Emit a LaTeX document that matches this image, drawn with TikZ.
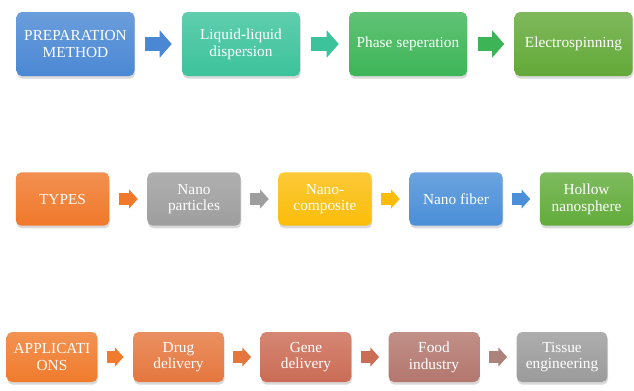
\documentclass[tikz,border=0pt]{standalone}
\usepackage{fontspec}
\setmainfont{Liberation Serif}
\usetikzlibrary{arrows.meta,shadows}

\definecolor{prepblue}{HTML}{4A88D4}
\definecolor{liqteal}{HTML}{3CC39B}
\definecolor{phasegreen}{HTML}{3DB557}
\definecolor{elecgreen}{HTML}{63A938}
\definecolor{typeorange}{HTML}{F0782A}
\definecolor{partgray}{HTML}{9E9E9E}
\definecolor{compyellow}{HTML}{FBBD0A}
\definecolor{fibblue}{HTML}{4A8FD8}
\definecolor{hollgreen}{HTML}{62AC3B}
\definecolor{apporange}{HTML}{F07B2C}
\definecolor{drugorange}{HTML}{E5773E}
\definecolor{genecoral}{HTML}{CB6C55}
\definecolor{foodbrown}{HTML}{B3776E}
\definecolor{tissgray}{HTML}{9B9B9B}

\tikzset{
  box/.style={rounded corners=4pt, top color=#1!82!white, bottom color=#1,
    text=white, align=center, inner sep=1pt,
    font=\fontsize{11.5}{12.5}\selectfont,
    drop shadow={opacity=0.3, shadow xshift=0.5pt, shadow yshift=-2pt}},
  bigbox/.style={box=#1, minimum width=88.5pt, minimum height=48pt},
  midbox/.style={box=#1, minimum width=70pt, minimum height=40pt},
  smallbox/.style={box=#1, minimum width=68pt, minimum height=37.5pt},
  bigarrow/.style={draw=#1, line width=11pt, -{Triangle[length=9pt,width=20pt]},
    shorten <=8pt, shorten >=7.5pt},
  smallarrow/.style={draw=#1, line width=8.5pt, -{Triangle[length=6.5pt,width=14pt]},
    shorten <=7pt, shorten >=7pt},
}

\begin{document}
\begin{tikzpicture}[x=0.75pt,y=-0.75pt]
    \useasboundingbox (0,0) rectangle (634,390);

    \node[bigbox=prepblue] (prep) at (75.5,44) {PREPARATION\\METHOD};
    \node[bigbox=liqteal] (liquid) at (241,44) {Liquid-liquid\\dispersion};
    \node[bigbox=phasegreen] (phase) at (408,44) {Phase seperation};
    \node[bigbox=elecgreen] (electro) at (573.5,44) {Electrospinning};
    \draw[bigarrow=prepblue] (prep) -- (liquid);
    \draw[bigarrow=liqteal] (liquid) -- (phase);
    \draw[bigarrow=phasegreen] (phase) -- (electro);

    \node[midbox=typeorange] (types) at (62.5,199) {TYPES};
    \node[midbox=partgray] (particles) at (194,199) {Nano\\particles};
    \node[midbox=compyellow] (composite) at (325,199) {Nano-\\composite};
    \node[midbox=fibblue] (fiber) at (456,199) {Nano fiber};
    \node[midbox=hollgreen] (hollow) at (586.5,199) {Hollow\\nanosphere};
    \draw[smallarrow=typeorange] (types) -- (particles);
    \draw[smallarrow=partgray] (particles) -- (composite);
    \draw[smallarrow=compyellow] (composite) -- (fiber);
    \draw[smallarrow=fibblue] (fiber) -- (hollow);

    \node[smallbox=apporange] (apps) at (52,357) {APPLICATI\\ONS};
    \node[smallbox=drugorange] (drug) at (178.5,357) {Drug\\delivery};
    \node[smallbox=genecoral] (gene) at (306,357) {Gene\\delivery};
    \node[smallbox=foodbrown] (food) at (434,357) {Food\\industry};
    \node[smallbox=tissgray] (tissue) at (562,357) {Tissue\\engineering};
    \draw[smallarrow=apporange] (apps) -- (drug);
    \draw[smallarrow=drugorange] (drug) -- (gene);
    \draw[smallarrow=genecoral] (gene) -- (food);
    \draw[smallarrow=foodbrown!70!tissgray] (food) -- (tissue);
\end{tikzpicture}
\end{document}
